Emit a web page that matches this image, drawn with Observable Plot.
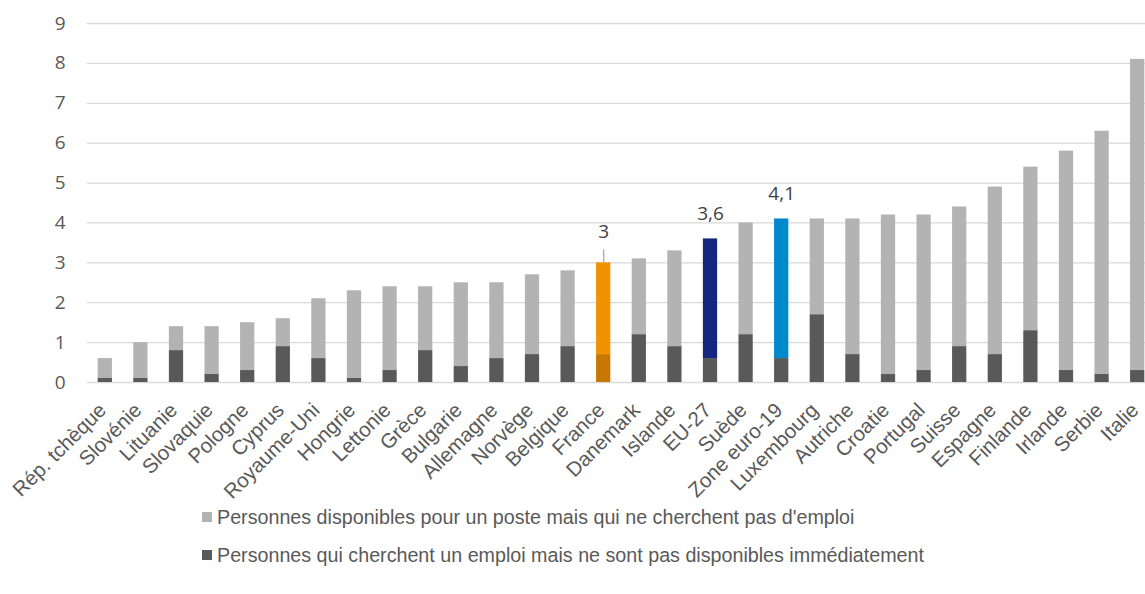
<!DOCTYPE html>
<html><head><meta charset="utf-8">
<script src="https://cdn.jsdelivr.net/npm/d3@7"></script>
<script src="https://cdn.jsdelivr.net/npm/@observablehq/plot@0.6"></script>
<style>
html,body{margin:0;padding:0;background:#fff;}
body{width:1145px;height:594px;overflow:hidden;position:relative;}
#legend{position:absolute;left:202px;top:498px;font-family:"Liberation Sans",Arial,sans-serif;font-size:19.7px;color:#595959;}
.item{display:flex;align-items:center;height:38px;white-space:nowrap;}
.sw{width:10px;height:10px;margin-right:5px;flex:none;}
</style></head><body><div id="chart"></div><div id="legend"></div>
<script>
// ---- data ----
const categories = ["Rép. tchèque","Slovénie","Lituanie","Slovaquie","Pologne","Cyprus","Royaume-Uni","Hongrie","Lettonie","Grèce","Bulgarie","Allemagne","Norvège","Belgique","France","Danemark","Islande","EU-27","Suède","Zone euro-19","Luxembourg","Autriche","Croatie","Portugal","Suisse","Espagne","Finlande","Irlande","Serbie","Italie"];
// total (both groups stacked)
const totalValues = [0.6,1.0,1.4,1.4,1.5,1.6,2.1,2.3,2.4,2.4,2.5,2.5,2.7,2.8,3.0,3.1,3.3,3.6,4.0,4.1,4.1,4.1,4.2,4.2,4.4,4.9,5.4,5.8,6.3,8.1];
// persons seeking work but not available immediately (bottom, dark)
const seekingValues = [0.1,0.1,0.8,0.2,0.3,0.9,0.6,0.1,0.3,0.8,0.4,0.6,0.7,0.9,0.7,1.2,0.9,0.6,1.2,0.6,1.7,0.7,0.2,0.3,0.9,0.7,1.3,0.3,0.2,0.3];
const labelCategories = ["France","EU-27","Zone euro-19"];
const labelTexts = ["3","3,6","4,1"];
const yTicks = [0,1,2,3,4,5,6,7,8,9];
const seriesNames = ["Personnes disponibles pour un poste mais qui ne cherchent pas d'emploi","Personnes qui cherchent un emploi mais ne sont pas disponibles immédiatement"];

// ---- styles ----
const lightGrey = "#B3B3B3", darkGrey = "#595959";
const topColor = {"France":"#F39200","EU-27":"#14287F","Zone euro-19":"#0088CE"};
const bottomColor = {"France":"#C87800"};

const rows = [];
categories.forEach((c,i)=>{
  rows.push({cat:c, y1:0, y2:seekingValues[i], fill: bottomColor[c] || darkGrey});
  rows.push({cat:c, y1:seekingValues[i], y2:totalValues[i], fill: topColor[c] || lightGrey});
});
const labels = labelCategories.map((c,i)=>({cat:c, total: totalValues[categories.indexOf(c)], text: labelTexts[i]}));
const franceLab = labels.filter(d=>d.cat==="France");
const otherLab = labels.filter(d=>d.cat!=="France");

const chart = Plot.plot({
  width: 1145,
  height: 500,
  marginTop: 23,
  marginBottom: 118,
  marginLeft: 87,
  marginRight: 0,
  style: {fontFamily: "'Open Sans', sans-serif", fontSize: "19px", color: "#595959", background: "#fff", overflow: "visible"},
  x: {type: "band", domain: categories, range: [87, 1155], paddingInner: 0.6, paddingOuter: 0.3, round: false, axis: null},
  y: {domain: [0, 9], ticks: yTicks, tickSize: 0, tickPadding: 22, label: null, tickFormat: d => String(d)},
  color: {type: "identity"},
  marks: [
    Plot.ruleY(yTicks, {stroke: "#D9D9D9", strokeWidth: 1.3}),
    Plot.rectY(rows, {x: "cat", y1: "y1", y2: "y2", fill: "fill"}),
    Plot.ruleX(franceLab, {x: "cat", y1: "total", y2: "total", insetBottom: 13, stroke: "#A6A6A6", strokeWidth: 1.2}),
    Plot.text(franceLab, {x: "cat", y: "total", text: "text", dy: -31, fill: "#404040", fontSize: 19}),
    Plot.text(otherLab, {x: "cat", y: "total", text: "text", dy: -25, fill: "#404040", fontSize: 19}),
    Plot.text(categories, {x: d => d, frameAnchor: "bottom", text: d => d, rotate: -45, textAnchor: "end", dx: 2, dy: 29, fontSize: 20.5, fontFamily: "'Liberation Sans', Arial, sans-serif", fill: "#595959"})
  ]
});
document.getElementById("chart").appendChild(chart);

const legendColors = [lightGrey, darkGrey];
const lg = document.getElementById("legend");
seriesNames.forEach((n,i)=>{
  const it = document.createElement("div"); it.className = "item";
  const sw = document.createElement("span"); sw.className = "sw"; sw.style.background = legendColors[i];
  const tx = document.createElement("span"); tx.textContent = n;
  it.appendChild(sw); it.appendChild(tx); lg.appendChild(it);
});
</script>
</body></html>
